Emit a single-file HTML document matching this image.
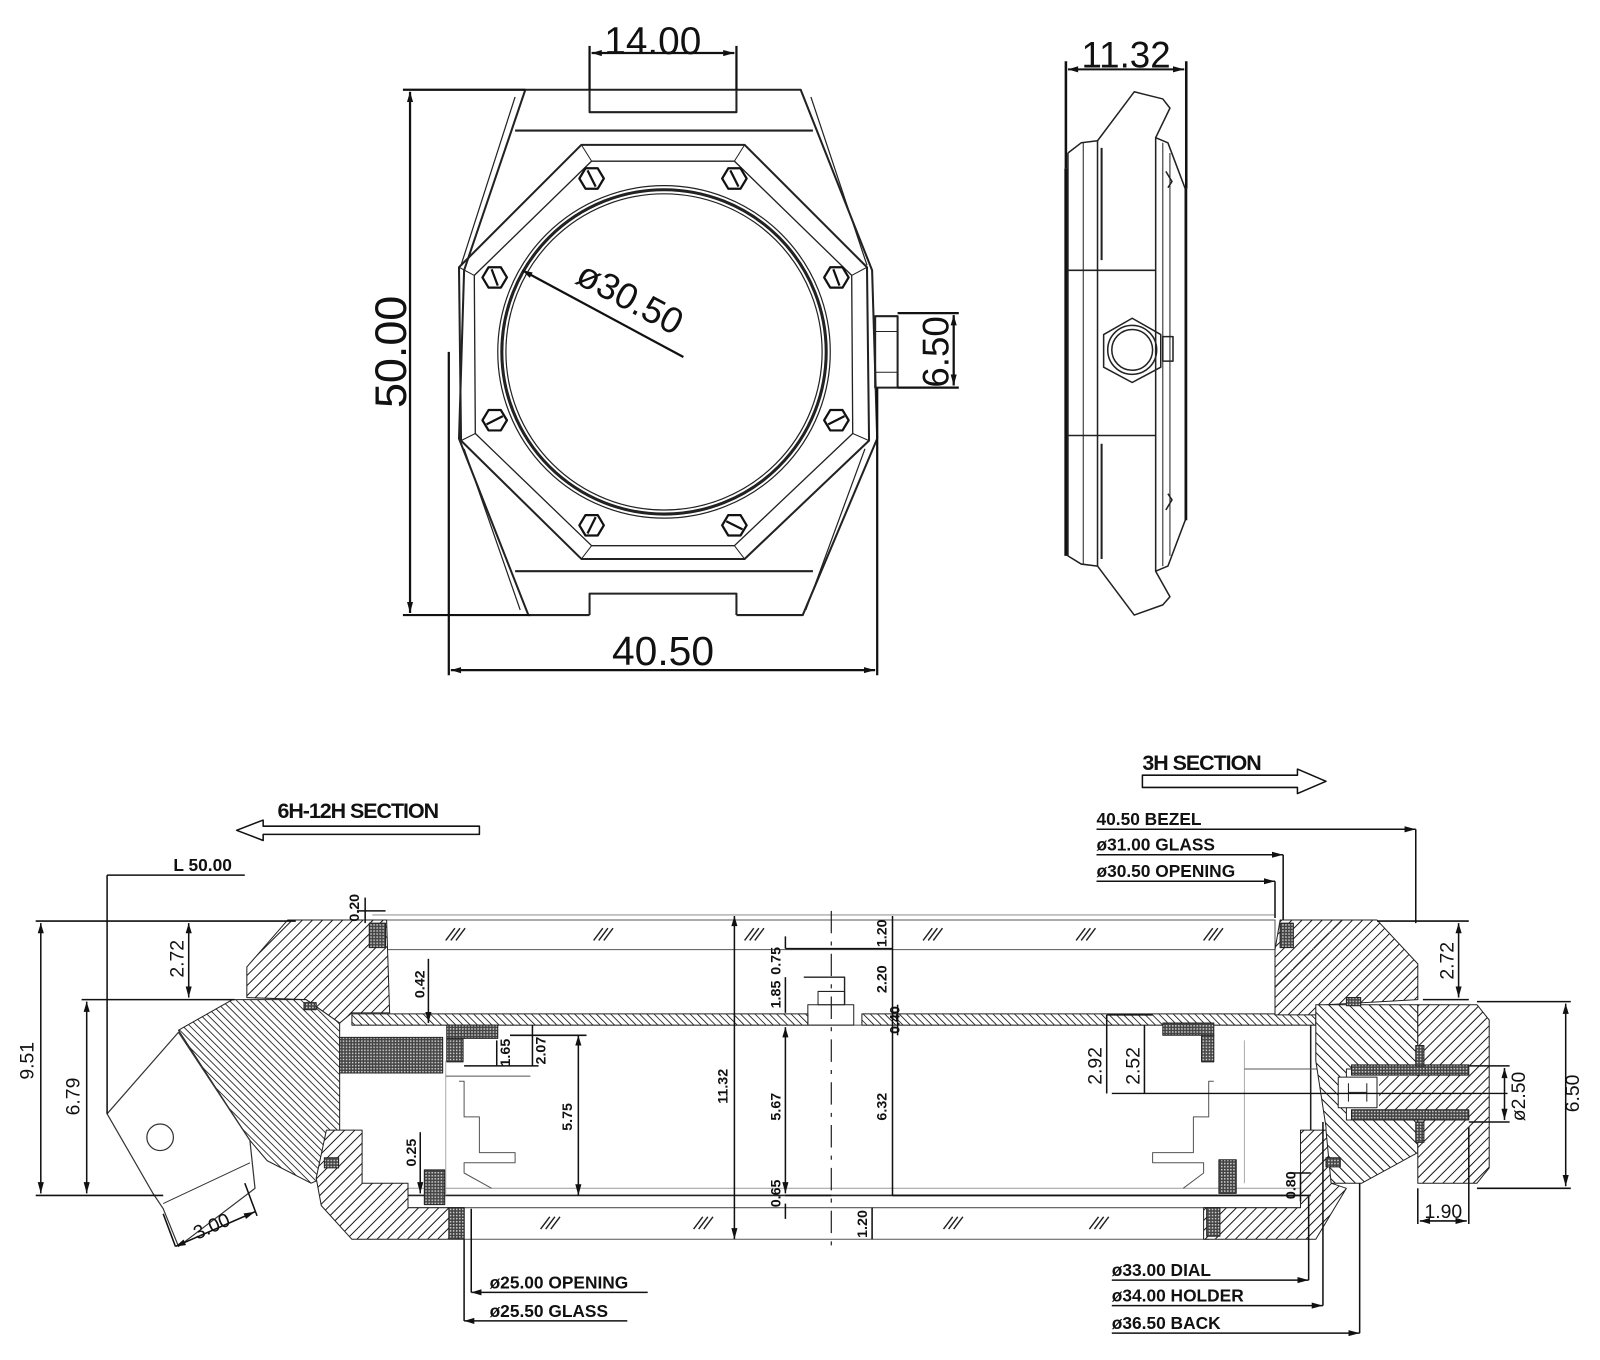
<!DOCTYPE html>
<html><head><meta charset="utf-8"><style>
html,body{margin:0;padding:0;background:#fff;}
svg{display:block;}
text{font-family:"Liberation Sans Narrow","Liberation Sans",sans-serif;fill:#111;}
</style></head><body>
<svg width="1600" height="1360" viewBox="0 0 1600 1360" xmlns="http://www.w3.org/2000/svg">
<defs>
<pattern id="ha" width="7" height="7" patternUnits="userSpaceOnUse" patternTransform="rotate(45)"><rect width="7" height="7" fill="#fff"/><line x1="0" y1="0" x2="0" y2="7" stroke="#111" stroke-width="1.9"/></pattern>
<pattern id="hb" width="5" height="5" patternUnits="userSpaceOnUse" patternTransform="rotate(-45)"><rect width="5" height="5" fill="#fff"/><line x1="0" y1="0" x2="0" y2="5" stroke="#111" stroke-width="1.6"/></pattern>
<pattern id="hc" width="7" height="7" patternUnits="userSpaceOnUse" patternTransform="rotate(-45)"><rect width="7" height="7" fill="#fff"/><line x1="0" y1="0" x2="0" y2="7" stroke="#111" stroke-width="1.9"/></pattern>
<pattern id="hd" width="3" height="3" patternUnits="userSpaceOnUse"><rect width="3" height="3" fill="#444"/><rect width="1.5" height="1.5" fill="#ccc"/></pattern>
<marker id="ar" markerWidth="12" markerHeight="8" refX="11" refY="4" orient="auto" markerUnits="userSpaceOnUse"><path d="M0,1 L11,4 L0,7 Z" fill="#111"/></marker>
<marker id="al" markerWidth="12" markerHeight="8" refX="1" refY="4" orient="auto" markerUnits="userSpaceOnUse"><path d="M11,1 L1,4 L11,7 Z" fill="#111"/></marker>
</defs>
<g transform="scale(1.02)" stroke-linejoin="round">

<!-- ================= FRONT VIEW ================= -->
<g fill="none" stroke="#222" stroke-width="2">
  <polyline points="578,88 515,88 455,265 450,430 518,603 578,603"/>
  <polyline points="722,88 785,88 855,265 860,430 787,603 722,603"/>
  <polyline points="505,95 452,260" stroke-width="1.2"/>
  <polyline points="795,95 850,260" stroke-width="1.2"/>
  <polyline points="455,440 510,598" stroke-width="1.2"/>
  <polyline points="848,440 790,598" stroke-width="1.2"/>
  <rect x="578" y="88" width="144" height="22"/>
  <polyline points="578,603 578,582 722,582 722,603"/>
  <line x1="505" y1="128" x2="797" y2="128"/>
  <line x1="505" y1="560" x2="797" y2="560"/>
  <polygon points="570,142 730,142 850,262 852,432 730,548 570,548 452,432 450,262"/>
  <polygon points="580,158 720,158 835,270 836,425 720,535 580,535 466,425 465,270" stroke-width="1.3"/>
  <line x1="570" y1="142" x2="580" y2="158" stroke-width="1"/><line x1="730" y1="142" x2="720" y2="158" stroke-width="1"/>
  <line x1="850" y1="262" x2="835" y2="270" stroke-width="1"/><line x1="852" y1="432" x2="836" y2="425" stroke-width="1"/>
  <line x1="730" y1="548" x2="720" y2="535" stroke-width="1"/><line x1="570" y1="548" x2="580" y2="535" stroke-width="1"/>
  <line x1="452" y1="432" x2="466" y2="425" stroke-width="1"/><line x1="450" y1="262" x2="465" y2="270" stroke-width="1"/>
  <circle cx="651" cy="345" r="163" stroke-width="1.2"/>
  <circle cx="651" cy="345" r="159" stroke-width="3"/>
  <circle cx="651" cy="345" r="155" stroke-width="1.2"/>
  <rect x="858" y="310" width="22" height="70"/>
  <line x1="858" y1="325" x2="880" y2="325" stroke-width="1"/>
  <line x1="858" y1="365" x2="880" y2="365" stroke-width="1"/>
</g>
<g fill="#fff" stroke="#111" stroke-width="2.2">
  <g transform="translate(580,175)"><polygon points="-12,0 -6,-10 6,-10 12,0 6,10 -6,10"/><line x1="-4" y1="-8" x2="4" y2="8"/></g>
  <g transform="translate(720,175)"><polygon points="-12,0 -6,-10 6,-10 12,0 6,10 -6,10"/><line x1="-4" y1="-8" x2="4" y2="8"/></g>
  <g transform="translate(485,272)"><polygon points="-12,0 -6,-10 6,-10 12,0 6,10 -6,10"/><line x1="-3" y1="-8" x2="3" y2="8"/></g>
  <g transform="translate(820,272)"><polygon points="-12,0 -6,-10 6,-10 12,0 6,10 -6,10"/><line x1="-3" y1="-8" x2="3" y2="8"/></g>
  <g transform="translate(485,412)"><polygon points="-12,0 -6,-10 6,-10 12,0 6,10 -6,10"/><line x1="-8" y1="4" x2="8" y2="-4"/></g>
  <g transform="translate(820,412)"><polygon points="-12,0 -6,-10 6,-10 12,0 6,10 -6,10"/><line x1="-8" y1="4" x2="8" y2="-4"/></g>
  <g transform="translate(580,515)"><polygon points="-12,0 -6,-10 6,-10 12,0 6,10 -6,10"/><line x1="-4" y1="8" x2="4" y2="-8"/></g>
  <g transform="translate(720,515)"><polygon points="-12,0 -6,-10 6,-10 12,0 6,10 -6,10"/><line x1="-8" y1="-4" x2="8" y2="4"/></g>
</g>
<g stroke="#111" stroke-width="2.2" fill="none">
  <line x1="395" y1="88" x2="515" y2="88"/>
  <line x1="395" y1="603" x2="520" y2="603"/>
  <line x1="402" y1="90" x2="402" y2="601" marker-start="url(#al)" marker-end="url(#ar)"/>
  <line x1="578" y1="45" x2="578" y2="88"/>
  <line x1="722" y1="45" x2="722" y2="88"/>
  <line x1="580" y1="52" x2="720" y2="52" marker-start="url(#al)" marker-end="url(#ar)"/>
  <line x1="440" y1="345" x2="440" y2="662"/>
  <line x1="860" y1="380" x2="860" y2="662"/>
  <line x1="442" y1="657" x2="858" y2="657" marker-start="url(#al)" marker-end="url(#ar)"/>
  <line x1="880" y1="307" x2="940" y2="307"/>
  <line x1="880" y1="380" x2="940" y2="380"/>
  <line x1="935" y1="309" x2="935" y2="378" marker-start="url(#al)" marker-end="url(#ar)"/>
  <line x1="512" y1="265" x2="670" y2="350" marker-start="url(#al)"/>
</g>
<text x="640" y="53" font-size="38" text-anchor="middle">14.00</text>
<text transform="translate(398,345) rotate(-90)" font-size="44" text-anchor="middle">50.00</text>
<text x="650" y="652" font-size="40" text-anchor="middle">40.50</text>
<text transform="translate(930,345) rotate(-90)" font-size="36" text-anchor="middle">6.50</text>
<text transform="translate(612,303) rotate(28)" font-size="36" text-anchor="middle">ø30.50</text>

<!-- ================= SIDE VIEW ================= -->
<g fill="none" stroke="#222" stroke-width="1.5">
  <polyline points="1047,150 1060,140 1076,138 1112,90 1140,97 1147,106 1133,135 1133,560 1147,585 1140,593 1112,603 1076,555 1060,553 1047,545 1047,150"/>
  <line x1="1076" y1="138" x2="1076" y2="555"/>
  <line x1="1062" y1="140" x2="1062" y2="553" stroke-width="1"/>
  <line x1="1080" y1="145" x2="1080" y2="255" stroke-width="2"/>
  <line x1="1080" y1="435" x2="1080" y2="548" stroke-width="2"/>
  <polyline points="1133,135 1145,140 1162,185 1162,510 1145,555 1133,560"/>
  <line x1="1140" y1="140" x2="1140" y2="555" stroke-width="1"/>
  <line x1="1147" y1="150" x2="1147" y2="545" stroke-width="1"/>
  <line x1="1047" y1="265" x2="1133" y2="265"/>
  <line x1="1047" y1="427" x2="1133" y2="427"/>
  <polygon points="1110,312 1138,328 1138,360 1110,375 1082,360 1082,328"/>
  <circle cx="1110" cy="343" r="24"/>
  <circle cx="1110" cy="343" r="20"/>
  <rect x="1140" y="330" width="10" height="24"/>
  <path d="M1143,168 l6,10 -4,6 M1143,500 l6,-10 -4,-6"/>
</g>
<g stroke="#111" stroke-width="2.5" fill="none">
  <line x1="1045" y1="60" x2="1045" y2="165"/>
  <line x1="1045" y1="165" x2="1045" y2="545" stroke-width="3"/>
  <line x1="1163" y1="60" x2="1163" y2="185"/>
  <line x1="1163" y1="185" x2="1163" y2="510" stroke-width="2"/>
  <line x1="1047" y1="68" x2="1161" y2="68" stroke-width="2" marker-start="url(#al)" marker-end="url(#ar)"/>
</g>
<text x="1104" y="66" font-size="36" text-anchor="middle">11.32</text>

<!-- ================= SECTION ================= -->
<text x="272" y="802" font-size="21" font-weight="bold" letter-spacing="-1">6H-12H SECTION</text>
<path d="M470,810 L258,810 L258,804 L232,814 L258,824 L258,818 L470,818 Z" fill="none" stroke="#111" stroke-width="1.5"/>
<text x="1120" y="755" font-size="21" font-weight="bold" letter-spacing="-1">3H SECTION</text>
<path d="M1120,760 L1272,760 L1272,754 L1300,766 L1272,778 L1272,772 L1120,772 Z" fill="none" stroke="#111" stroke-width="1.5"/>

<g fill="none" stroke="#555" stroke-width="1">
  <rect x="379" y="902" width="871" height="29"/>
  <line x1="365" y1="897" x2="1250" y2="897" stroke="#999"/>
  <rect x="455" y="1184" width="730" height="31"/>
  <line x1="345" y1="1005" x2="1290" y2="1005"/>
  <line x1="345" y1="1165" x2="1285" y2="1165" stroke="#999"/>
  <line x1="400" y1="1172" x2="1285" y2="1172" stroke="#222" stroke-width="1.5"/>
  <line x1="1285" y1="995" x2="1285" y2="1172" stroke="#222" stroke-width="1.5"/>
  <line x1="437" y1="1040" x2="437" y2="1172" stroke="#aaa"/>
  <polyline points="1220,1020 1220,1160" stroke="#aaa"/>
  <polyline points="450,1060 455,1060 455,1095 470,1095 470,1130 505,1130 505,1140 455,1140 455,1150 482,1165"/>
  <polyline points="437,1055 520,1055"/>
  <polyline points="1190,1060 1185,1060 1185,1095 1170,1095 1170,1130 1130,1130 1130,1140 1180,1140 1180,1150 1160,1165"/>
  <polyline points="1220,1048 1300,1048"/>
  <rect x="792" y="985" width="45" height="20" stroke="#222"/>
  <rect x="802" y="972" width="26" height="13" stroke="#222"/>
  <polyline points="788,958 828,958 828,985" stroke="#222" stroke-width="1.4"/>
</g>
<line x1="815" y1="893" x2="815" y2="1222" stroke="#222" stroke-width="1.2" stroke-dasharray="22,8,4,8"/>

<rect x="345" y="994" width="447" height="11" fill="url(#hb)" stroke="#222"/>
<rect x="845" y="994" width="445" height="11" fill="url(#hb)" stroke="#222"/>

<polygon points="282,902 379,902 382,993 345,993 333,1003 300,980 242,978 242,948" fill="url(#ha)" stroke="#222"/>
<polygon points="228,980 300,980 333,1003 333,1148 305,1160 262,1138 245,1118 175,1010" fill="url(#hb)" stroke="#222"/>
<polygon points="320,1108 355,1108 355,1160 400,1160 400,1184 455,1184 455,1215 345,1215 315,1182 310,1155" fill="url(#ha)" stroke="#222"/>
<polygon points="105,1092 175,1012 245,1118 250,1165 175,1222 160,1185 150,1170" fill="#fff" stroke="#333" stroke-width="1.2"/>
<polyline points="160,1180 245,1140" fill="none" stroke="#333" stroke-width="1"/>
<circle cx="157" cy="1115" r="13" fill="none" stroke="#333" stroke-width="1.2"/>
<g fill="url(#hd)" stroke="#222" stroke-width="1">
  <rect x="362" y="905" width="16" height="24"/>
  <rect x="333" y="1017" width="101" height="35"/>
  <rect x="438" y="1005" width="50" height="13"/>
  <rect x="438" y="1018" width="16" height="23"/>
  <rect x="416" y="1147" width="20" height="34"/>
  <rect x="440" y="1184" width="15" height="30"/>
  <rect x="298" y="983" width="12" height="7"/>
  <rect x="318" y="1135" width="14" height="10"/>
</g>

<polygon points="1255,902 1350,902 1390,945 1390,980 1300,985 1290,995 1250,995 1250,931" fill="url(#ha)" stroke="#222"/>
<polygon points="1290,985 1390,985 1390,1048 1320,1048 1320,1098 1390,1098 1390,1130 1335,1160 1300,1160 1300,1105 1290,1040" fill="url(#hc)" stroke="#222"/>
<polygon points="1390,985 1448,985 1460,1000 1460,1145 1448,1160 1390,1160" fill="url(#ha)" stroke="#222"/>
<polygon points="1180,1184 1275,1184 1275,1108 1300,1108 1305,1160 1320,1165 1290,1215 1180,1215" fill="url(#ha)" stroke="#222"/>
<rect x="1352" y="1055" width="90" height="33" fill="url(#ha)" stroke="none"/>
<g fill="url(#hd)" stroke="#222" stroke-width="1">
  <rect x="1255" y="905" width="13" height="24"/>
  <rect x="1140" y="1003" width="50" height="12"/>
  <rect x="1178" y="1015" width="12" height="26"/>
  <rect x="1195" y="1137" width="17" height="33"/>
  <rect x="1183" y="1184" width="13" height="28"/>
  <rect x="1325" y="1044" width="115" height="10"/>
  <rect x="1325" y="1088" width="115" height="10"/>
  <rect x="1388" y="1025" width="8" height="20"/>
  <rect x="1388" y="1100" width="8" height="20"/>
  <rect x="1320" y="978" width="14" height="8"/>
  <rect x="1300" y="1135" width="14" height="9"/>
</g>
<rect x="1312" y="1056" width="38" height="30" fill="#fff" stroke="#222"/>
<path d="M1322,1062 v18 M1340,1062 v18 M1322,1071 h18" stroke="#222" fill="none"/>
<line x1="1090" y1="1072" x2="1478" y2="1072" stroke="#111" stroke-width="1.4"/>

<g stroke="#222" stroke-width="1.4" fill="none">
  <path d="M437,922 l9,-12 M442,922 l9,-12 M447,922 l9,-12"/>
  <path d="M582,922 l9,-12 M587,922 l9,-12 M592,922 l9,-12"/>
  <path d="M730,922 l9,-12 M735,922 l9,-12 M740,922 l9,-12"/>
  <path d="M905,922 l9,-12 M910,922 l9,-12 M915,922 l9,-12"/>
  <path d="M1055,922 l9,-12 M1060,922 l9,-12 M1065,922 l9,-12"/>
  <path d="M1180,922 l9,-12 M1185,922 l9,-12 M1190,922 l9,-12"/>
  <path d="M530,1205 l9,-12 M535,1205 l9,-12 M540,1205 l9,-12"/>
  <path d="M680,1205 l9,-12 M685,1205 l9,-12 M690,1205 l9,-12"/>
  <path d="M925,1205 l9,-12 M930,1205 l9,-12 M935,1205 l9,-12"/>
  <path d="M1068,1205 l9,-12 M1073,1205 l9,-12 M1078,1205 l9,-12"/>
</g>

<g stroke="#111" stroke-width="1.5" fill="none">
  <line x1="35" y1="903" x2="290" y2="903"/>
  <line x1="35" y1="1172" x2="160" y2="1172"/>
  <line x1="40" y1="905" x2="40" y2="1170" marker-start="url(#al)" marker-end="url(#ar)"/>
  <line x1="80" y1="980" x2="230" y2="980"/>
  <line x1="85" y1="982" x2="85" y2="1170" marker-start="url(#al)" marker-end="url(#ar)"/>
  <line x1="185" y1="905" x2="185" y2="978" marker-start="url(#al)" marker-end="url(#ar)"/>
  <line x1="105" y1="858" x2="240" y2="858"/>
  <line x1="105" y1="858" x2="105" y2="1092"/>
  <line x1="172" y1="1222" x2="250" y2="1188" marker-start="url(#al)" marker-end="url(#ar)"/>
  <line x1="160" y1="1190" x2="172" y2="1222"/>
  <line x1="240" y1="1160" x2="252" y2="1192"/>
  <line x1="720" y1="898" x2="720" y2="1215" marker-start="url(#al)" marker-end="url(#ar)"/>
  <line x1="770" y1="1007" x2="770" y2="1170" marker-start="url(#al)" marker-end="url(#ar)"/>
  <line x1="770" y1="918" x2="770" y2="930"/>
  <line x1="770" y1="930" x2="875" y2="930"/>
  <line x1="770" y1="958" x2="770" y2="993"/>
  <line x1="770" y1="1172" x2="815" y2="1172"/>
  <line x1="770" y1="1180" x2="770" y2="1195"/>
  <line x1="875" y1="898" x2="875" y2="1172"/>
  <line x1="875" y1="1172" x2="1285" y2="1172"/>
  <line x1="855" y1="1184" x2="855" y2="1215"/>
  <line x1="880" y1="985" x2="880" y2="1015"/>
  <line x1="420" y1="940" x2="420" y2="1003" marker-end="url(#ar)"/>
  <line x1="412" y1="1110" x2="412" y2="1170" marker-end="url(#ar)"/>
  <line x1="487" y1="1020" x2="487" y2="1045"/>
  <line x1="455" y1="1045" x2="528" y2="1045"/>
  <line x1="522" y1="1005" x2="522" y2="1045"/>
  <line x1="500" y1="1015" x2="575" y2="1015"/>
  <line x1="567" y1="1015" x2="567" y2="1172" marker-start="url(#al)" marker-end="url(#ar)"/>
  <line x1="350" y1="893" x2="378" y2="893"/>
  <line x1="358" y1="880" x2="358" y2="905"/>
  <line x1="1085" y1="995" x2="1085" y2="1072"/>
  <line x1="1122" y1="1005" x2="1122" y2="1072"/>
  <line x1="1085" y1="995" x2="1130" y2="995"/>
  <line x1="1275" y1="1150" x2="1275" y2="1178"/>
  <line x1="1265" y1="1150" x2="1285" y2="1150"/>
  <line x1="1350" y1="903" x2="1440" y2="903"/>
  <line x1="1395" y1="980" x2="1440" y2="980"/>
  <line x1="1430" y1="905" x2="1430" y2="978" marker-start="url(#al)" marker-end="url(#ar)"/>
  <line x1="1448" y1="982" x2="1540" y2="982"/>
  <line x1="1448" y1="1165" x2="1540" y2="1165"/>
  <line x1="1535" y1="984" x2="1535" y2="1163" marker-start="url(#al)" marker-end="url(#ar)"/>
  <line x1="1440" y1="1045" x2="1480" y2="1045"/>
  <line x1="1440" y1="1100" x2="1480" y2="1100"/>
  <line x1="1475" y1="1047" x2="1475" y2="1098" marker-start="url(#al)" marker-end="url(#ar)"/>
  <line x1="1390" y1="1165" x2="1390" y2="1200"/>
  <line x1="1440" y1="1105" x2="1440" y2="1200"/>
  <line x1="1392" y1="1197" x2="1438" y2="1197" marker-start="url(#al)" marker-end="url(#ar)"/>
  <line x1="1075" y1="813" x2="1388" y2="813" marker-end="url(#ar)"/>
  <line x1="1388" y1="813" x2="1388" y2="905"/>
  <line x1="1075" y1="838" x2="1258" y2="838" marker-end="url(#ar)"/>
  <line x1="1258" y1="838" x2="1258" y2="902"/>
  <line x1="1075" y1="864" x2="1250" y2="864" marker-end="url(#ar)"/>
  <line x1="1250" y1="864" x2="1250" y2="900"/>
  <line x1="462" y1="1267" x2="635" y2="1267" marker-start="url(#al)"/>
  <line x1="462" y1="1185" x2="462" y2="1267"/>
  <line x1="455" y1="1295" x2="615" y2="1295" marker-start="url(#al)"/>
  <line x1="455" y1="1215" x2="455" y2="1295"/>
  <line x1="1090" y1="1255" x2="1283" y2="1255" marker-end="url(#ar)"/>
  <line x1="1283" y1="1172" x2="1283" y2="1255"/>
  <line x1="1090" y1="1280" x2="1297" y2="1280" marker-end="url(#ar)"/>
  <line x1="1297" y1="1100" x2="1297" y2="1280"/>
  <line x1="1090" y1="1307" x2="1333" y2="1307" marker-end="url(#ar)"/>
  <line x1="1333" y1="1160" x2="1333" y2="1307"/>
</g>

<g font-size="17" font-weight="600">
  <text x="170" y="854">L 50.00</text>
  <text x="1075" y="809">40.50 BEZEL</text>
  <text x="1075" y="834">ø31.00 GLASS</text>
  <text x="1075" y="860">ø30.50 OPENING</text>
  <text x="480" y="1263">ø25.00 OPENING</text>
  <text x="480" y="1291">ø25.50 GLASS</text>
  <text x="1090" y="1251">ø33.00 DIAL</text>
  <text x="1090" y="1276">ø34.00 HOLDER</text>
  <text x="1090" y="1303">ø36.50 BACK</text>
</g>
<g font-size="19">
  <text transform="translate(33,1040) rotate(-90)" text-anchor="middle">9.51</text>
  <text transform="translate(78,1075) rotate(-90)" text-anchor="middle">6.79</text>
  <text transform="translate(180,940) rotate(-90)" text-anchor="middle">2.72</text>
  <text transform="translate(1425,942) rotate(-90)" text-anchor="middle">2.72</text>
  <text transform="translate(1548,1072) rotate(-90)" text-anchor="middle">6.50</text>
  <text transform="translate(1495,1075) rotate(-90)" text-anchor="middle">ø2.50</text>
  <text x="1415" y="1194" text-anchor="middle">1.90</text>
  <text transform="translate(210,1208) rotate(-24)" text-anchor="middle">3.00</text>
  <text transform="translate(1080,1045) rotate(-90)" text-anchor="middle">2.92</text>
  <text transform="translate(1117,1045) rotate(-90)" text-anchor="middle">2.52</text>
</g>
<g font-size="14" font-weight="600">
  <text transform="translate(713,1065) rotate(-90)" text-anchor="middle">11.32</text>
  <text transform="translate(765,1085) rotate(-90)" text-anchor="middle">5.67</text>
  <text transform="translate(869,1085) rotate(-90)" text-anchor="middle">6.32</text>
  <text transform="translate(765,942) rotate(-90)" text-anchor="middle">0.75</text>
  <text transform="translate(765,975) rotate(-90)" text-anchor="middle">1.85</text>
  <text transform="translate(869,915) rotate(-90)" text-anchor="middle">1.20</text>
  <text transform="translate(869,960) rotate(-90)" text-anchor="middle">2.20</text>
  <text transform="translate(882,1000) rotate(-90)" text-anchor="middle">0.40</text>
  <text transform="translate(765,1170) rotate(-90)" text-anchor="middle">0.65</text>
  <text transform="translate(850,1200) rotate(-90)" text-anchor="middle">1.20</text>
  <text transform="translate(416,965) rotate(-90)" text-anchor="middle">0.42</text>
  <text transform="translate(408,1130) rotate(-90)" text-anchor="middle">0.25</text>
  <text transform="translate(500,1032) rotate(-90)" text-anchor="middle">1.65</text>
  <text transform="translate(535,1030) rotate(-90)" text-anchor="middle">2.07</text>
  <text transform="translate(561,1095) rotate(-90)" text-anchor="middle">5.75</text>
  <text transform="translate(1270,1162) rotate(-90)" text-anchor="middle">0.80</text>
  <text transform="translate(352,890) rotate(-90)" text-anchor="middle">0.20</text>
</g>
</g>
</svg>
</body></html>
